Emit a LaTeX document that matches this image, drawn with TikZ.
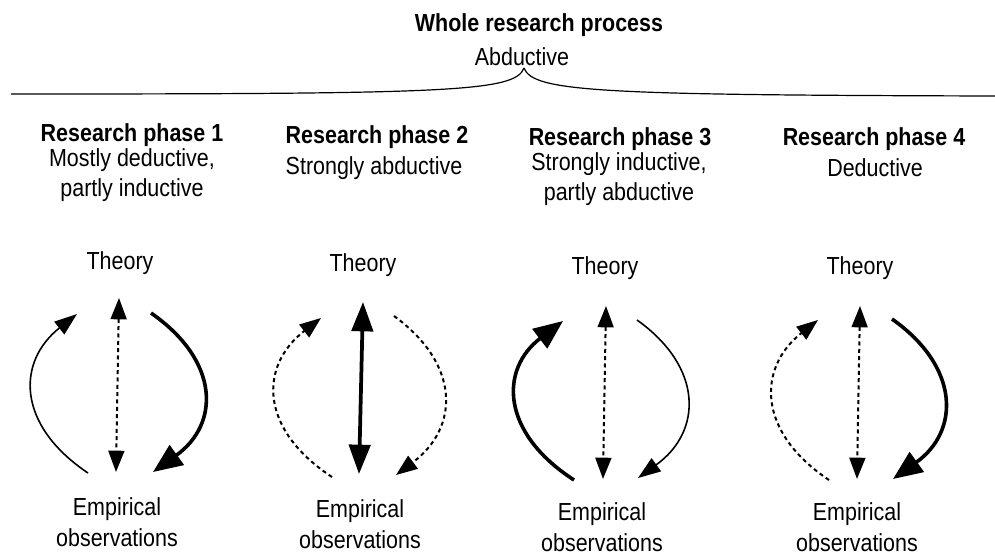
\documentclass[tikz,border=0pt]{standalone}
\usepackage{fontspec}
\setmainfont[FakeStretch=0.87]{Liberation Sans}
\usetikzlibrary{arrows.meta}
\tikzset{
  lbl/.style={inner sep=0pt, font=\fontsize{18.5}{23}\selectfont, align=center},
  hdr/.style={inner sep=0pt, font=\fontsize{18.5}{23}\selectfont\bfseries, align=center},
  thinarr/.style={line width=1.2pt, -{Triangle[length=17pt,width=12pt]}},
  thickarr/.style={line width=2.7pt, -{Triangle[length=22pt,width=18pt]}},
  dasharr/.style={line width=1.5pt, dash pattern=on 3pt off 2.5pt, -{Triangle[length=16pt,width=12pt]}},
  dbldash/.style={line width=1.5pt, dash pattern=on 3pt off 2.5pt,
    {Triangle[length=16pt,width=12pt]}-{Triangle[length=16pt,width=12pt]}},
  dblthick/.style={line width=2.8pt,
    {Triangle[length=22pt,width=16pt]}-{Triangle[length=22pt,width=16pt]}},
  bracestyle/.style={line width=0.9pt}
}
\begin{document}
\begin{tikzpicture}[x=0.75pt,y=-0.75pt]
\useasboundingbox (0,0) rectangle (995,556);

% top
\node[hdr] (whole) at (539,25) {Whole research process};
\node[lbl] (abd) at (522,57) {Abductive};
\coordinate (btip) at (524,68);
\coordinate (bl) at (11,94);
\coordinate (br) at (995,96);
\draw[bracestyle] (bl) .. controls (450,94) and (515,92) .. (btip);
\draw[bracestyle] (btip) .. controls (533,92) and (600,95) .. (br);

% headers
\node[hdr] (h1) at (132,135) {Research phase 1};
\node[lbl] (d1) at (132,175) {Mostly deductive,\\partly inductive};
\node[hdr] (h2) at (377,137) {Research phase 2};
\node[lbl] (d2) at (374,168) {Strongly abductive};
\node[hdr] (h3) at (620,139) {Research phase 3};
\node[lbl] (d3) at (619,179) {Strongly inductive,\\partly abductive};
\node[hdr] (h4) at (874,139) {Research phase 4};
\node[lbl] (d4) at (875,168) {Deductive};

% theory / empirical labels
\node[lbl] (t1) at (120,263) {Theory};
\node[lbl] (t2) at (363,265) {Theory};
\node[lbl] (t3) at (605,268) {Theory};
\node[lbl] (t4) at (860,268) {Theory};
\node[lbl] (e1) at (117,522) {Empirical\\observations};
\node[lbl] (e2) at (360,524) {Empirical\\observations};
\node[lbl] (e3) at (602,527) {Empirical\\observations};
\node[lbl] (e4) at (857,527) {Empirical\\observations};

% panel 1
\coordinate (p1ls) at (88,473);  \coordinate (p1le) at (77,314);
\coordinate (p1ct) at (119,298); \coordinate (p1cb) at (116,472);
\coordinate (p1rs) at (151,313); \coordinate (p1re) at (153,472);
\draw[thinarr] (p1ls) .. controls (16.5,425) and (16.5,362) .. (p1le);
\draw[dbldash] (p1ct) -- (p1cb);
\draw[thickarr] (p1rs) .. controls (220,361) and (220,424) .. (p1re);

% panel 2
\coordinate (p2ls) at (332,477); \coordinate (p2le) at (321,318);
\coordinate (p2ct) at (363,302); \coordinate (p2cb) at (359,474);
\coordinate (p2rs) at (394,316); \coordinate (p2re) at (396,475);
\draw[dasharr] (p2ls) .. controls (259,429) and (259,366) .. (p2le);
\draw[dblthick] (p2ct) -- (p2cb);
\draw[dasharr] (p2rs) .. controls (460,364) and (460,427) .. (p2re);

% panel 3
\coordinate (p3ls) at (574,480); \coordinate (p3le) at (563,321);
\coordinate (p3ct) at (606,306); \coordinate (p3cb) at (603,479);
\coordinate (p3rs) at (637,320); \coordinate (p3re) at (638,478);
\draw[thickarr] (p3ls) .. controls (500,432) and (500,369) .. (p3le);
\draw[dbldash] (p3ct) -- (p3cb);
\draw[thinarr] (p3rs) .. controls (703,367) and (703,431) .. (p3re);

% panel 4
\coordinate (p4ls) at (829,480); \coordinate (p4le) at (818,320);
\coordinate (p4ct) at (860,306); \coordinate (p4cb) at (857,479);
\coordinate (p4rs) at (892,319); \coordinate (p4re) at (893,479);
\draw[dasharr] (p4ls) .. controls (757,432) and (757,368) .. (p4le);
\draw[dbldash] (p4ct) -- (p4cb);
\draw[thickarr] (p4rs) .. controls (960,367) and (960,431) .. (p4re);
\end{tikzpicture}
\end{document}
